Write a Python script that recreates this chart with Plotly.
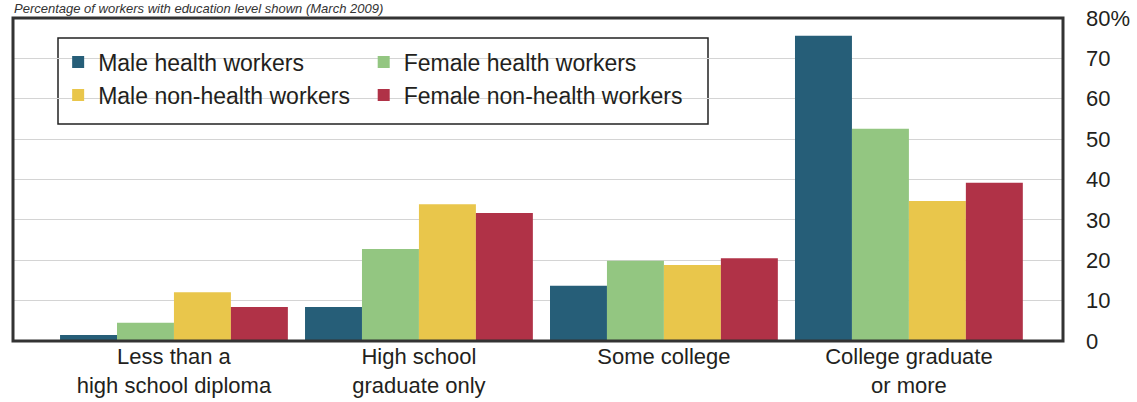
import plotly.graph_objects as go

categories = ["Less than a<br>high school diploma", "High school<br>graduate only",
              "Some college", "College graduate<br>or more"]
male_health = [1.5, 8.4, 13.7, 75.6]
female_health = [4.5, 22.8, 19.9, 52.6]
male_nonhealth = [12.1, 33.9, 18.8, 34.7]
female_nonhealth = [8.4, 31.7, 20.5, 39.2]
series_names = ["Male health workers", "Female health workers",
                "Male non-health workers", "Female non-health workers"]
colors = ["#265e78", "#93c681", "#e9c64b", "#b03247"]
y_tickvals = [0, 10, 20, 30, 40, 50, 60, 70, 80]
y_ticktext = ["0", "10", "20", "30", "40", "50", "60", "70", "80%"]
title_text = "Percentage of workers with education level shown (March 2009)"

FONT = "Liberation Sans"
TXT = "#231f20"

xs = list(range(len(categories)))
series = [male_health, female_health, male_nonhealth, female_nonhealth]
legend_ids = ["legend", "legend2", "legend", "legend2"]

fig = go.Figure()
for name, vals, col, lg in zip(series_names, series, colors, legend_ids):
    fig.add_trace(go.Bar(x=xs, y=vals, name=name, marker=dict(color=col, line=dict(width=0)),
                         legend=lg, legendgroup=name))

leg_common = dict(orientation="v", xanchor="left", yanchor="top",
                  bgcolor="rgba(0,0,0,0)", borderwidth=0,
                  font=dict(family=FONT, size=23, color=TXT), tracegroupgap=0,
                  itemclick=False)
fig.update_layout(
    width=1137, height=402,
    margin=dict(l=13, r=74, t=18, b=61),
    paper_bgcolor="white", plot_bgcolor="white",
    barmode="group", bargap=0.07, bargroupgap=0,
    showlegend=True,
    legend=dict(x=0.043, y=0.93, **leg_common),
    legend2=dict(x=0.334, y=0.93, **leg_common),
    xaxis=dict(range=[-0.657, 3.629], tickvals=xs, ticktext=categories,
               tickfont=dict(family=FONT, size=22, color=TXT), showgrid=False,
               zeroline=False, ticks="", automargin=False),
    yaxis=dict(range=[0, 80], side="right", tickvals=y_tickvals, ticktext=y_ticktext,
               tickfont=dict(family=FONT, size=22, color=TXT), showgrid=True,
               gridcolor="#d4d4d4", gridwidth=1, zeroline=False, ticks="",
               ticklabelstandoff=22, automargin=False),
    font=dict(family=FONT, color=TXT),
)
# plot frame
fig.add_shape(type="rect", xref="paper", yref="paper", x0=0, x1=1, y0=0, y1=1,
              line=dict(color="#333333", width=3), layer="above")
# legend box
fig.add_shape(type="rect", xref="paper", yref="paper",
              x0=(58 - 13) / 1050, x1=(708 - 13) / 1050,
              y0=(341 - 124) / 323, y1=(341 - 38) / 323,
              line=dict(color="#222222", width=1.5), fillcolor="white", layer="below")
fig.add_annotation(text=title_text, xref="paper", yref="paper", x=0, y=1 + 9 / 323,
                   xanchor="left", yanchor="middle", showarrow=False, borderpad=0,
                   font=dict(family=FONT, size=13, color="#333333", style="italic"))
fig.write_html("out.html", config={"displayModeBar": False},
               post_script="document.body.style.margin='0';document.body.style.padding='0';")
